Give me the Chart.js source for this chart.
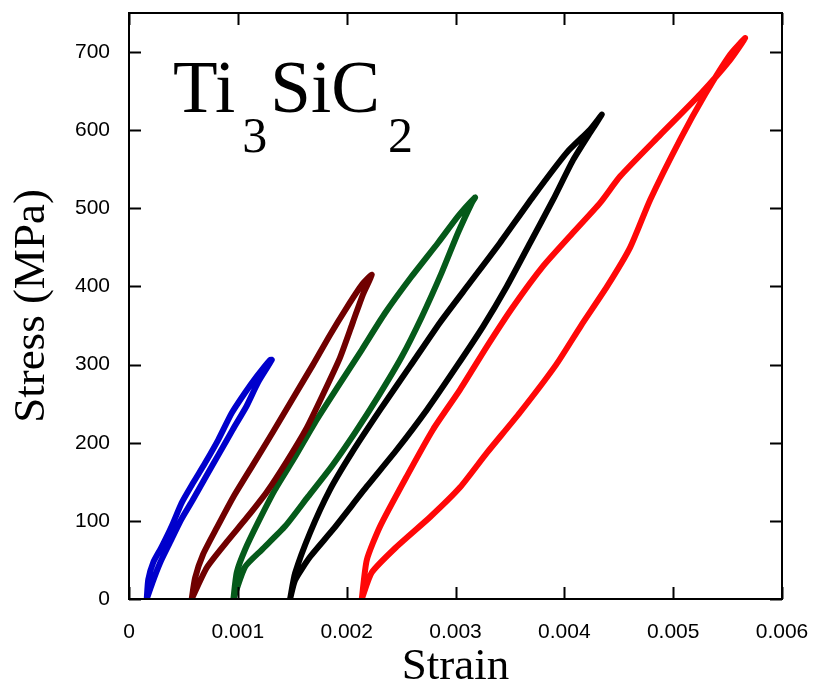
<!DOCTYPE html>
<html>
<head>
<meta charset="utf-8">
<title>Ti3SiC2 stress-strain loops</title>
<script src="https://cdn.jsdelivr.net/npm/chart.js@4.4.1/dist/chart.umd.min.js"></script>
<style>
  html, body { margin: 0; padding: 0; background: #fff; }
  canvas { display: block; }
</style>
</head>
<body>
<canvas id="loops" width="813" height="690"></canvas>
<script>
// -----------------------------
// Data (strain, MPa)
// each loop: up the left branch, back down the right one
// -----------------------------
const blueStrain  = [0.000163, 0.000177, 0.000223, 0.000301, 0.000392, 0.000484, 0.000591, 0.000699, 0.000821, 0.000944, 0.001066, 0.001174, 0.001296, 0.001312, 0.001185, 0.001077, 0.000954, 0.000832, 0.000709, 0.000587, 0.000481, 0.000375, 0.000288, 0.000215, 0.000163];
const blueStress  = [0, 25, 47, 67, 93, 123, 149, 174, 204, 238, 264, 285, 306, 306, 277, 246, 217, 187, 157, 127, 102, 72, 47, 21, 0];

const brownStrain = [0.000576, 0.000607, 0.000680, 0.000806, 0.000956, 0.001140, 0.001324, 0.001507, 0.001691, 0.001847, 0.002001, 0.002139, 0.002231, 0.002150, 0.002059, 0.001939, 0.001783, 0.001633, 0.001449, 0.001266, 0.001082, 0.000898, 0.000714, 0.000576];
const brownStress = [0, 27, 57, 91, 130, 172, 214, 257, 300, 338, 373, 402, 415, 390, 355, 309, 262, 219, 176, 137, 104, 73, 40, 0];

const greenStrain = [0.000959, 0.000990, 0.001066, 0.001186, 0.001342, 0.001526, 0.001710, 0.001921, 0.002139, 0.002353, 0.002598, 0.002840, 0.003024, 0.003180, 0.003150, 0.003024, 0.002874, 0.002690, 0.002506, 0.002289, 0.002077, 0.001863, 0.001645, 0.001434, 0.001220, 0.001066, 0.000959];
const greenStress = [0, 34, 63, 98, 140, 182, 226, 272, 319, 366, 413, 456, 490, 514, 507, 469, 418, 361, 310, 259, 213, 170, 131, 93, 63, 41, 0];

const blackStrain = [0.001480, 0.001526, 0.001664, 0.001847, 0.002047, 0.002307, 0.002583, 0.002858, 0.003134, 0.003410, 0.003713, 0.004026, 0.004237, 0.004345, 0.004237, 0.004081, 0.003897, 0.003686, 0.003471, 0.003254, 0.003012, 0.002736, 0.002460, 0.002185, 0.001875, 0.001664, 0.001526, 0.001480];
const blackStress = [0, 33, 85, 140, 187, 242, 298, 354, 405, 456, 515, 572, 601, 620, 597, 562, 511, 456, 400, 349, 298, 242, 191, 144, 89, 54, 24, 0];

const redStrain   = [0.002139, 0.002185, 0.002307, 0.002552, 0.002794, 0.003042, 0.003288, 0.003529, 0.003805, 0.004081, 0.004329, 0.004513, 0.004881, 0.005248, 0.005524, 0.005662, 0.005524, 0.005294, 0.005064, 0.004789, 0.004605, 0.004393, 0.004154, 0.003925, 0.003594, 0.003288, 0.003042, 0.002767, 0.002460, 0.002231, 0.002139];
const redStress   = [0, 50, 93, 157, 217, 268, 323, 374, 426, 469, 507, 541, 594, 646, 690, 718, 697, 646, 588, 511, 450, 400, 350, 300, 239, 187, 143, 105, 67, 34, 0];

const xTicks = [0, 0.001, 0.002, 0.003, 0.004, 0.005, 0.006];
const xTickLabels = ['0', '0.001', '0.002', '0.003', '0.004', '0.005', '0.006'];
const yTicks = [0, 100, 200, 300, 400, 500, 600, 700];
const yTickLabels = ['0', '100', '200', '300', '400', '500', '600', '700'];

// -----------------------------
// Helpers
// -----------------------------
function toPoints(xs, ys) {
    return xs.map((x, i) => ({ x: x, y: ys[i] }));
}

function loop(label, xs, ys, color) {
    return {
        label: label,
        data: toPoints(xs, ys),
        showLine: true,
        borderColor: color,
        backgroundColor: color,
        borderWidth: 6,
        borderJoinStyle: 'round',
        borderCapStyle: 'round',
        pointRadius: 0,
        tension: 0.2
    };
}

// frame box with inward ticks on all four sides
const framePlugin = {
    id: 'frame',
    afterDatasetsDraw(chart) {
        const { ctx, chartArea: a, scales } = chart;
        const len = 12;
        ctx.save();
        ctx.strokeStyle = '#000';
        ctx.lineWidth = 2;
        ctx.strokeRect(a.left, a.top, a.right - a.left, a.bottom - a.top);
        ctx.beginPath();
        xTicks.forEach(v => {
            const px = Math.round(scales.x.getPixelForValue(v)) + 0.5;
            ctx.moveTo(px, a.bottom); ctx.lineTo(px, a.bottom - len);
            ctx.moveTo(px, a.top); ctx.lineTo(px, a.top + len);
        });
        yTicks.forEach(v => {
            const py = Math.round(scales.y.getPixelForValue(v)) + 0.5;
            ctx.moveTo(a.left, py); ctx.lineTo(a.left + len, py);
            ctx.moveTo(a.right, py); ctx.lineTo(a.right - len, py);
        });
        ctx.stroke();
        ctx.restore();
    }
};

// "Ti3SiC2" label with subscripts
const formulaPlugin = {
    id: 'formula',
    afterDraw(chart) {
        const ctx = chart.ctx;
        const big = '73px "Liberation Serif", "Times New Roman", serif';
        const small = '50px "Liberation Serif", "Times New Roman", serif';
        const base = 112, subBase = 152;
        const parts = [['Ti', big, base, 7], ['3', small, subBase, 3], ['SiC', big, base, 8], ['2', small, subBase, 0]];
        let x = 173;
        ctx.save();
        ctx.fillStyle = '#000';
        ctx.textBaseline = 'alphabetic';
        ctx.textAlign = 'left';
        parts.forEach(([t, f, y, gap]) => {
            ctx.font = f;
            ctx.fillText(t, x, y);
            x += ctx.measureText(t).width + gap;
        });
        ctx.restore();
    }
};

// -----------------------------
// Chart
// -----------------------------
const tickFont = { family: '"Liberation Sans", Arial, sans-serif', size: 21 };
const titleFont = { family: '"Liberation Serif", "Times New Roman", serif', size: 45, lineHeight: 1 };

new Chart(document.getElementById('loops'), {
    type: 'scatter',
    data: {
        datasets: [
            loop('cycle 1', blueStrain, blueStress, '#0000cc'),
            loop('cycle 2', brownStrain, brownStress, '#700000'),
            loop('cycle 3', greenStrain, greenStress, '#055a1a'),
            loop('cycle 4', blackStrain, blackStress, '#000000'),
            loop('cycle 5', redStrain, redStress, '#ff0808')
        ]
    },
    options: {
        responsive: false,
        animation: false,
        layout: { padding: { left: 0, right: 31, top: 13, bottom: 0 } },
        plugins: { legend: { display: false }, tooltip: { enabled: false } },
        scales: {
            x: {
                type: 'linear',
                min: 0,
                max: 0.006,
                grid: { display: false, drawTicks: false },
                border: { display: false },
                afterBuildTicks: s => { s.ticks = xTicks.map(v => ({ value: v })); },
                afterFit: s => { s.height = 91; s.paddingLeft = 0; s.paddingRight = 0; },
                ticks: {
                    color: '#000',
                    font: tickFont,
                    padding: 21,
                    maxRotation: 0,
                    callback: (v, i) => xTickLabels[i]
                },
                title: { display: true, text: 'Strain', color: '#000', font: titleFont, padding: { top: 0, bottom: 0 } }
            },
            y: {
                type: 'linear',
                min: 0,
                max: 750,
                grid: { display: false, drawTicks: false },
                border: { display: false },
                afterBuildTicks: s => { s.ticks = yTicks.map(v => ({ value: v })); },
                afterFit: s => { s.width = 129; s.paddingTop = 0; s.paddingBottom = 0; },
                ticks: {
                    color: '#000',
                    font: tickFont,
                    padding: 19,
                    callback: (v, i) => yTickLabels[i]
                },
                title: { display: true, text: 'Stress (MPa)', color: '#000', font: titleFont, padding: { top: 10, bottom: 0 } }
            }
        }
    },
    plugins: [framePlugin, formulaPlugin]
});
</script>
</body>
</html>
